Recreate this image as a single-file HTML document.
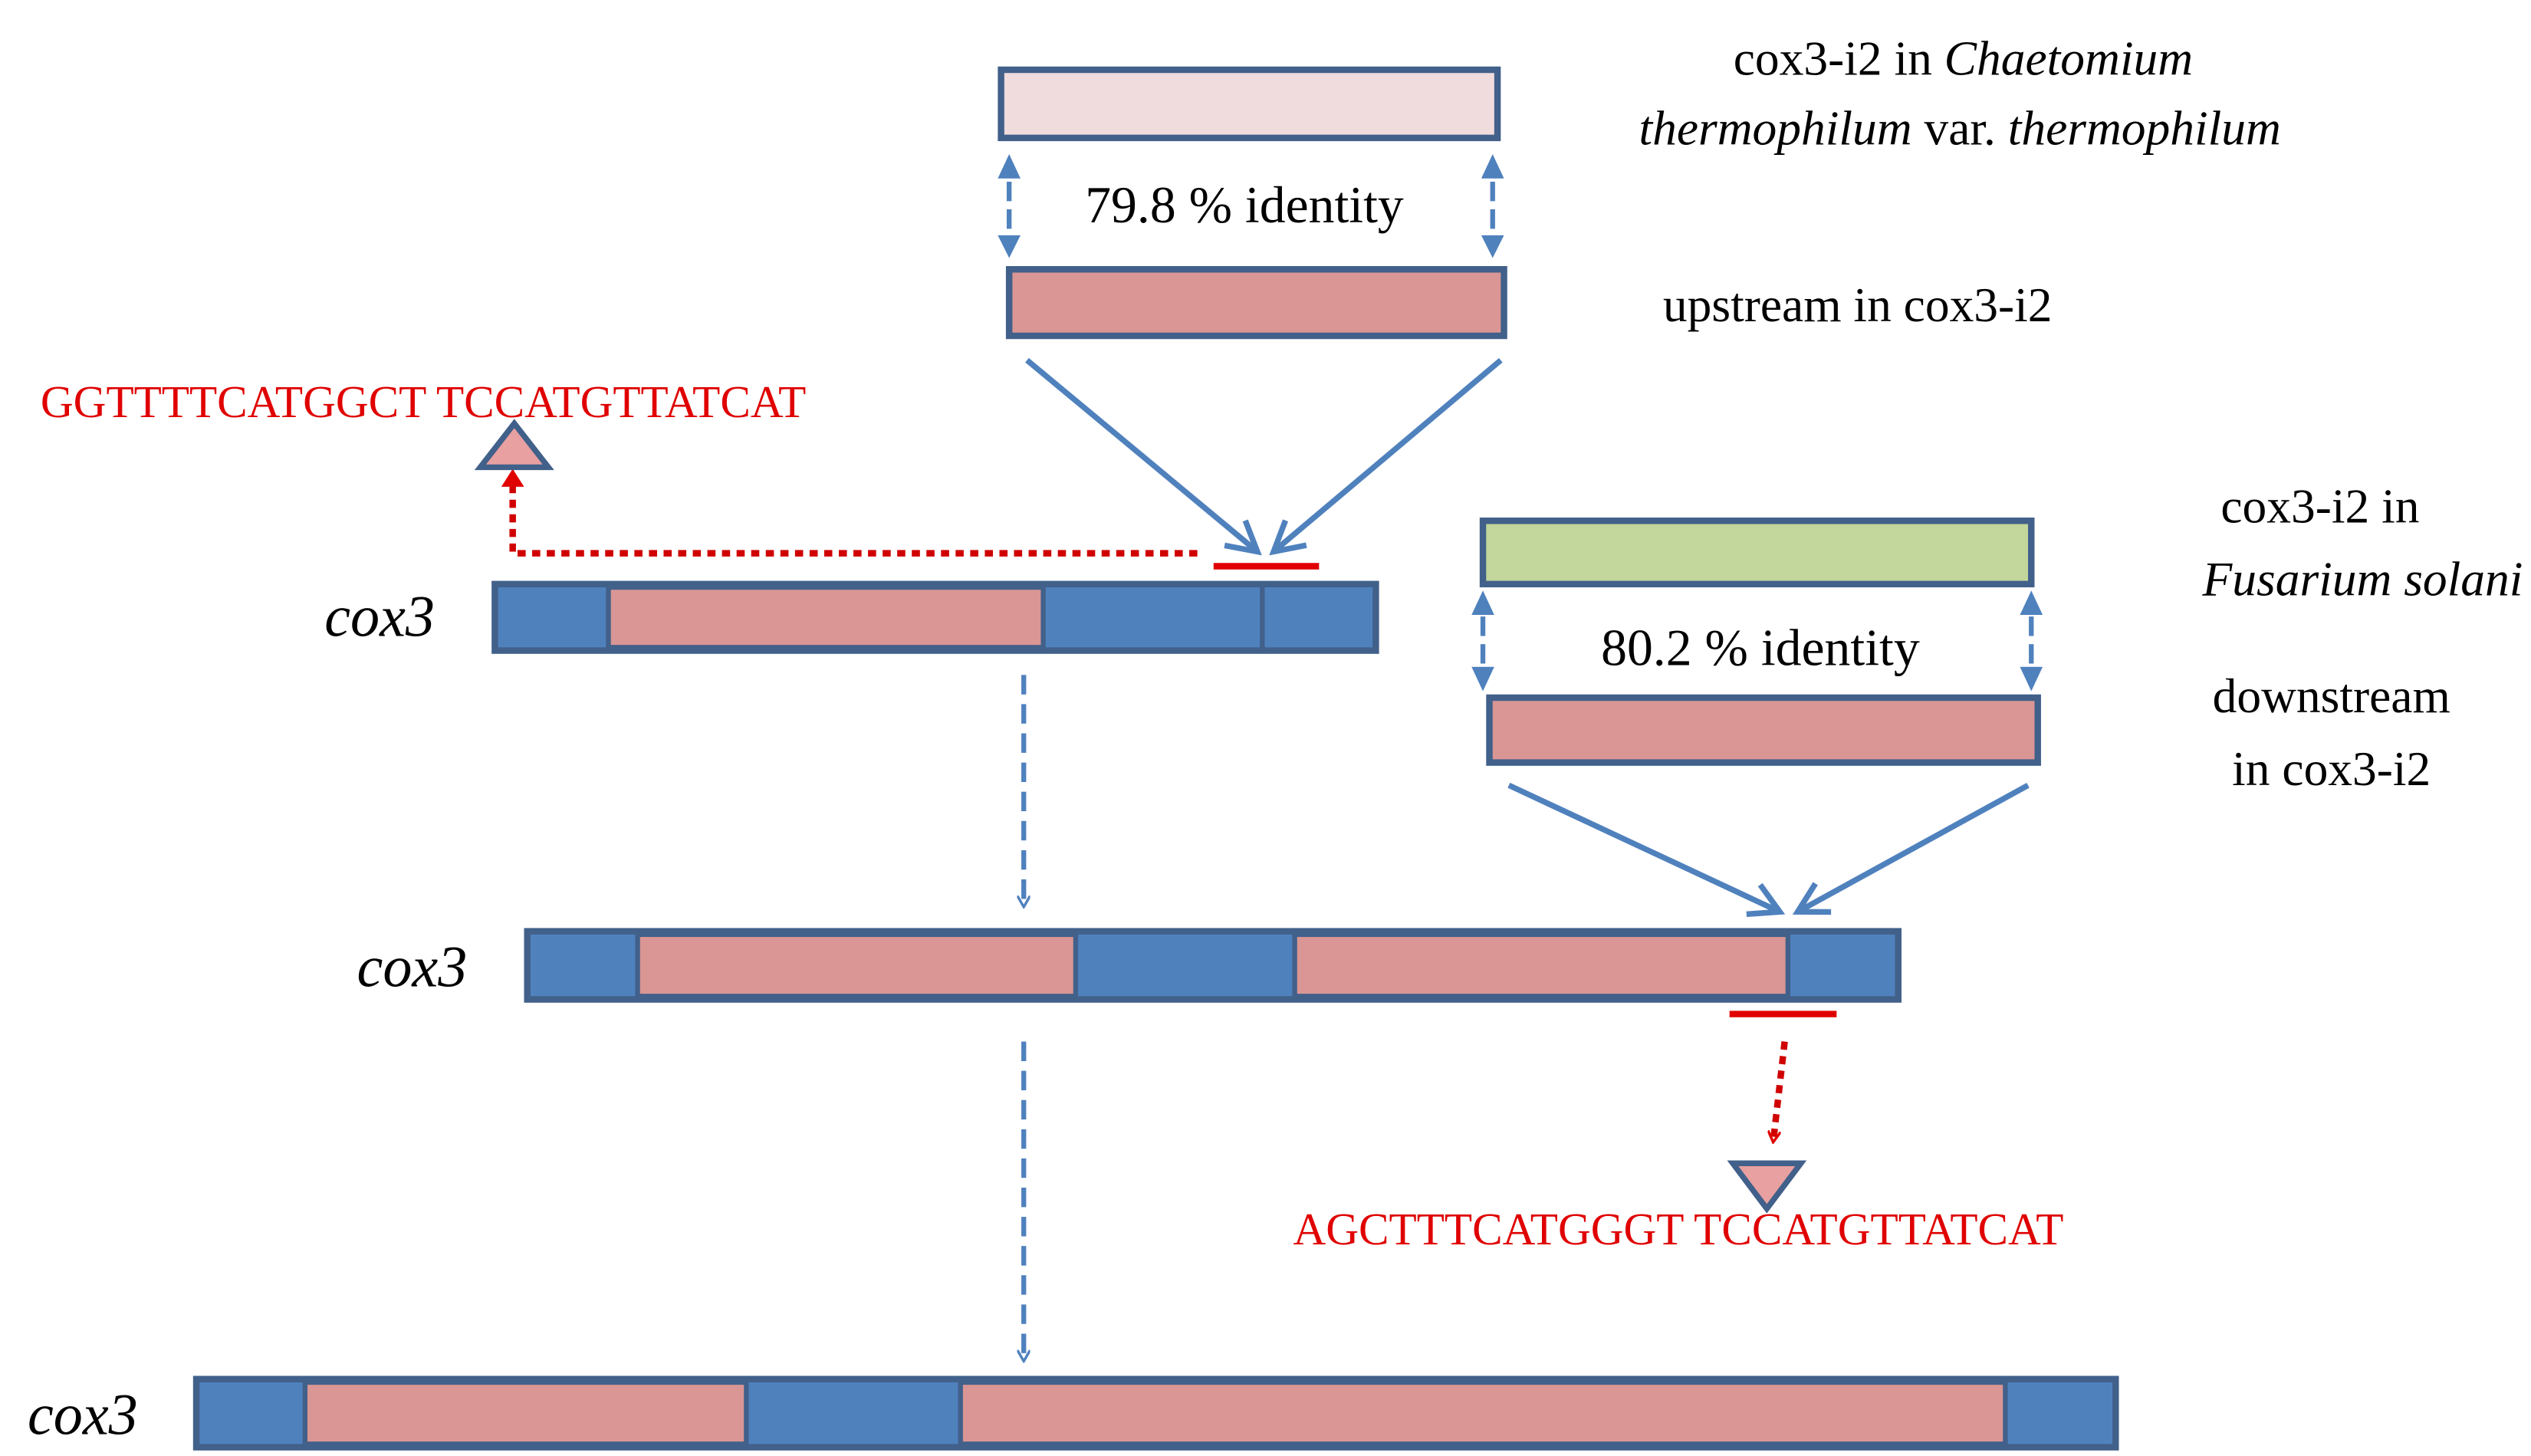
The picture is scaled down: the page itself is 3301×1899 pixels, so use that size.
<!DOCTYPE html>
<html><head><meta charset="utf-8"><style>html,body{margin:0;padding:0;background:#fff}svg{display:block}</style></head>
<body>
<svg width="3301" height="1899" viewBox="0 0 1560 897.4" preserveAspectRatio="none" xmlns="http://www.w3.org/2000/svg">
<defs>
<marker id="ab" markerWidth="8" markerHeight="8" refX="6" refY="4" orient="auto" markerUnits="userSpaceOnUse" viewBox="0 0 8 8"><path d="M0,0 L7,4 L0,8" fill="none" stroke="#4f81bd" stroke-width="1.6"/></marker>
<marker id="af" markerWidth="10" markerHeight="10" refX="8" refY="5" orient="auto" markerUnits="userSpaceOnUse" viewBox="0 0 10 10"><path d="M0,1 L9,5 L0,9 Z" fill="#4f81bd"/></marker>
<marker id="ar" markerWidth="8" markerHeight="8" refX="6" refY="4" orient="auto" markerUnits="userSpaceOnUse" viewBox="0 0 8 8"><path d="M0,0 L7,4 L0,8" fill="none" stroke="#e00000" stroke-width="1.6"/></marker>
<marker id="ac" markerWidth="24" markerHeight="24" refX="20" refY="12" orient="auto" markerUnits="userSpaceOnUse" viewBox="0 0 24 24"><path d="M2,2 L20,12 L2,22" fill="none" stroke="#4f81bd" stroke-width="3.5"/></marker>
</defs>
<g font-family="'Liberation Serif', serif">
<!-- top boxes -->
<rect x="617" y="43" width="306" height="42" fill="#f0dcdc" stroke="#41608a" stroke-width="4"/>
<text x="1210" y="46" font-size="30" text-anchor="middle" fill="#000">cox3-i2  in <tspan font-style="italic">Chaetomium</tspan></text>
<text x="1208" y="89" font-size="30" text-anchor="middle" fill="#000"><tspan font-style="italic">thermophilum</tspan> var. <tspan font-style="italic">thermophilum</tspan></text>
<line x1="622" y1="112" x2="622" y2="143" stroke="#4f81bd" stroke-width="3" stroke-dasharray="12,5"/>
<path d="M615,110 L622,95 L629,110 Z M615,145 L622,159 L629,145 Z" fill="#4f81bd"/>
<line x1="920" y1="112" x2="920" y2="143" stroke="#4f81bd" stroke-width="3" stroke-dasharray="12,5"/>
<path d="M913,110 L920,95 L927,110 Z M913,145 L920,159 L927,145 Z" fill="#4f81bd"/>
<text x="767" y="137" font-size="32" text-anchor="middle">79.8 % identity</text>
<rect x="622" y="166" width="305" height="41" fill="#d99694" stroke="#41608a" stroke-width="4"/>
<text x="1025" y="198" font-size="30">upstream  in  cox3-i2</text>
<line x1="633" y1="222" x2="775" y2="340" stroke="#4f81bd" stroke-width="3.5" marker-end="url(#ac)"/>
<line x1="925" y1="222" x2="785" y2="340" stroke="#4f81bd" stroke-width="3.5" marker-end="url(#ac)"/>
<line x1="748" y1="349" x2="813" y2="349" stroke="#e00000" stroke-width="4"/>
<polyline points="738,341 316,341 316,292" fill="none" stroke="#d00000" stroke-width="4" stroke-dasharray="5,4"/>
<path d="M309,300 L316,289 L323,300" fill="#e00000"/>
<polygon points="296,288 338,288 317,261" fill="#e8a0a0" stroke="#41608a" stroke-width="3.5"/>
<text x="25" y="257" font-size="28" fill="#e00000">GGTTTTCATGGCT TCCATGTTATCAT</text>
<!-- cox3 bar 1 -->
<text x="200" y="392" font-size="36" font-style="italic">cox3</text>
<rect x="305" y="360" width="543" height="41" fill="#4f81bd" stroke="#41608a" stroke-width="4"/>
<rect x="375" y="362" width="268" height="37" fill="#d99694" stroke="#41608a" stroke-width="3"/>
<line x1="778" y1="360" x2="778" y2="401" stroke="#41608a" stroke-width="3"/>
<!-- green -->
<rect x="914" y="321" width="338" height="39" fill="#c3d69b" stroke="#41608a" stroke-width="4"/>
<text x="1430" y="322" font-size="30" text-anchor="middle">cox3-i2 in</text>
<text x="1555" y="367" font-size="30" text-anchor="end" font-style="italic">Fusarium solani</text>
<line x1="914" y1="380" x2="914" y2="410" stroke="#4f81bd" stroke-width="3" stroke-dasharray="12,5"/>
<path d="M907,379 L914,364 L921,379 Z M907,411 L914,426 L921,411 Z" fill="#4f81bd"/>
<line x1="1252" y1="380" x2="1252" y2="410" stroke="#4f81bd" stroke-width="3" stroke-dasharray="12,5"/>
<path d="M1245,379 L1252,364 L1259,379 Z M1245,411 L1252,426 L1259,411 Z" fill="#4f81bd"/>
<text x="1085" y="410" font-size="32" text-anchor="middle">80.2 % identity</text>
<rect x="918" y="430" width="338" height="40" fill="#d99694" stroke="#41608a" stroke-width="4"/>
<text x="1437" y="439" font-size="30" text-anchor="middle">downstream</text>
<text x="1437" y="484" font-size="30" text-anchor="middle">in  cox3-i2</text>
<line x1="930" y1="484" x2="1097" y2="562" stroke="#4f81bd" stroke-width="3.5" marker-end="url(#ac)"/>
<line x1="1250" y1="484" x2="1108" y2="562" stroke="#4f81bd" stroke-width="3.5" marker-end="url(#ac)"/>
<!-- vertical dashed -->
<line x1="631" y1="416" x2="631" y2="558" stroke="#4f81bd" stroke-width="3" stroke-dasharray="12,6" marker-end="url(#ab)"/>
<line x1="631" y1="642" x2="631" y2="838" stroke="#4f81bd" stroke-width="3" stroke-dasharray="12,6" marker-end="url(#ab)"/>
<!-- cox3 bar 2 -->
<text x="220" y="608" font-size="36" font-style="italic">cox3</text>
<rect x="325" y="574" width="845" height="42" fill="#4f81bd" stroke="#41608a" stroke-width="4"/>
<rect x="393" y="576" width="270" height="38" fill="#d99694" stroke="#41608a" stroke-width="3"/>
<rect x="798" y="576" width="304" height="38" fill="#d99694" stroke="#41608a" stroke-width="3"/>
<line x1="1066" y1="625" x2="1132" y2="625" stroke="#e00000" stroke-width="4"/>
<line x1="1100" y1="642" x2="1093" y2="703" stroke="#d00000" stroke-width="4" stroke-dasharray="5,4" marker-end="url(#ar)"/>
<polygon points="1068,717 1110,717 1089,745" fill="#e8a0a0" stroke="#41608a" stroke-width="3.5"/>
<text x="797" y="767" font-size="28" fill="#e00000">AGCTTTCATGGGT TCCATGTTATCAT</text>
<!-- cox3 bar 3 -->
<text x="17" y="884" font-size="36" font-style="italic">cox3</text>
<rect x="121" y="850" width="1183" height="42" fill="#4f81bd" stroke="#41608a" stroke-width="4"/>
<rect x="188" y="852" width="272" height="38" fill="#d99694" stroke="#41608a" stroke-width="3"/>
<rect x="592" y="852" width="644" height="38" fill="#d99694" stroke="#41608a" stroke-width="3"/>
</g>
</svg>
</body></html>
